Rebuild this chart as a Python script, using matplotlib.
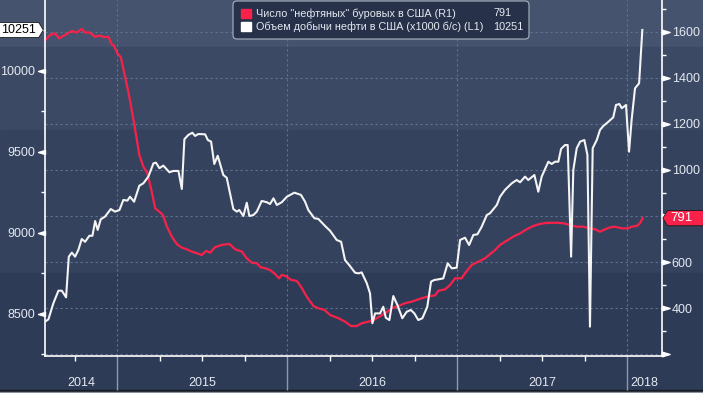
import matplotlib
matplotlib.use('Agg')
import matplotlib.pyplot as plt
import matplotlib.transforms as mtransforms
from matplotlib.path import Path
from matplotlib.patches import Rectangle, FancyBboxPatch
import numpy as np

plt.rcParams['font.family'] = ['Liberation Sans', 'DejaVu Sans']

# добыча нефти в США, тыс. б/с (левая ось)
prod_t = [2014.582, 2014.596, 2014.625, 2014.655, 2014.675, 2014.700, 2014.716, 2014.734, 2014.753, 2014.772,
          2014.792, 2014.812, 2014.837, 2014.855, 2014.871, 2014.886, 2014.904, 2014.929, 2014.963, 2014.988,
          2015.014, 2015.037, 2015.061, 2015.076, 2015.100, 2015.131, 2015.155, 2015.184, 2015.214, 2015.229,
          2015.249, 2015.272, 2015.308, 2015.331, 2015.361, 2015.381, 2015.396, 2015.419, 2015.443, 2015.459,
          2015.478, 2015.518, 2015.534, 2015.553, 2015.572, 2015.592, 2015.625, 2015.645, 2015.684, 2015.704,
          2015.719, 2015.743, 2015.763, 2015.778, 2015.802, 2015.822, 2015.851, 2015.881, 2015.900, 2015.920,
          2015.940, 2015.969, 2015.999, 2016.043, 2016.082, 2016.106, 2016.125, 2016.161, 2016.184, 2016.224,
          2016.253, 2016.292, 2016.318, 2016.341, 2016.365, 2016.400, 2016.420, 2016.439, 2016.469, 2016.488,
          2016.502, 2016.518, 2016.547, 2016.566, 2016.581, 2016.602, 2016.625, 2016.649, 2016.678, 2016.704,
          2016.728, 2016.749, 2016.772, 2016.796, 2016.825, 2016.847, 2016.866, 2016.890, 2016.919, 2016.945,
          2016.969, 2016.998, 2017.018, 2017.047, 2017.071, 2017.096, 2017.120, 2017.145, 2017.175, 2017.194,
          2017.234, 2017.253, 2017.282, 2017.322, 2017.351, 2017.371, 2017.400, 2017.419, 2017.455, 2017.478,
          2017.498, 2017.537, 2017.557, 2017.576, 2017.596, 2017.612, 2017.635, 2017.651, 2017.671, 2017.684,
          2017.704, 2017.724, 2017.749, 2017.767, 2017.782, 2017.798, 2017.822, 2017.841, 2017.861, 2017.884,
          2017.919, 2017.935, 2017.955, 2017.969, 2017.994, 2018.012, 2018.027, 2018.047, 2018.071, 2018.090]
prod_v = [8455, 8465, 8564, 8642, 8642, 8601, 8852, 8877, 8852, 8893,
          8961, 8944, 8981, 8981, 9072, 9017, 9083, 9099, 9146, 9130,
          9140, 9202, 9198, 9222, 9191, 9290, 9305, 9346, 9428, 9432,
          9398, 9414, 9373, 9381, 9381, 9270, 9577, 9603, 9617, 9597,
          9609, 9607, 9572, 9562, 9424, 9475, 9356, 9339, 9146, 9130,
          9140, 9103, 9185, 9103, 9109, 9130, 9196, 9188, 9177, 9212,
          9171, 9188, 9222, 9247, 9233, 9191, 9140, 9089, 9085, 9041,
          9012, 8955, 8944, 8831, 8801, 8753, 8749, 8755, 8688, 8626,
          8441, 8502, 8502, 8543, 8475, 8461, 8609, 8554, 8472, 8512,
          8523, 8502, 8461, 8472, 8543, 8698, 8708, 8712, 8718, 8811,
          8780, 8784, 8955, 8969, 8924, 8986, 8990, 9037, 9109, 9120,
          9171, 9222, 9264, 9305, 9325, 9311, 9346, 9325, 9356, 9253,
          9346, 9438, 9424, 9438, 9438, 9517, 9541, 9541, 8852, 9387,
          9521, 9562, 9572, 9480, 8420, 9521, 9572, 9634, 9659, 9679,
          9712, 9788, 9794, 9768, 9788, 9500, 9696, 9891, 9922, 10251]

# число нефтяных буровых (правая ось)
rig_t = [2014.582, 2014.606, 2014.635, 2014.659, 2014.694, 2014.734, 2014.763, 2014.792, 2014.812, 2014.837,
         2014.871, 2014.896, 2014.929, 2014.949, 2014.969, 2014.982, 2015.002, 2015.022, 2015.047, 2015.072,
         2015.100, 2015.131, 2015.155, 2015.178, 2015.204, 2015.224, 2015.249, 2015.269, 2015.292, 2015.322,
         2015.351, 2015.381, 2015.410, 2015.439, 2015.469, 2015.498, 2015.524, 2015.547, 2015.576, 2015.616,
         2015.661, 2015.694, 2015.734, 2015.763, 2015.792, 2015.822, 2015.845, 2015.871, 2015.900, 2015.929,
         2015.953, 2015.969, 2015.992, 2016.024, 2016.057, 2016.082, 2016.116, 2016.155, 2016.184, 2016.220,
         2016.253, 2016.302, 2016.341, 2016.376, 2016.410, 2016.439, 2016.478, 2016.508, 2016.537, 2016.576,
         2016.616, 2016.655, 2016.694, 2016.734, 2016.773, 2016.812, 2016.841, 2016.871, 2016.890, 2016.929,
         2016.959, 2016.988, 2017.027, 2017.047, 2017.086, 2017.125, 2017.165, 2017.224, 2017.253, 2017.292,
         2017.331, 2017.371, 2017.410, 2017.449, 2017.478, 2017.508, 2017.547, 2017.586, 2017.625, 2017.665,
         2017.704, 2017.743, 2017.782, 2017.812, 2017.841, 2017.871, 2017.900, 2017.929, 2017.969, 2018.008,
         2018.027, 2018.057, 2018.076, 2018.092]
rig_v = [1567, 1586, 1593, 1571, 1586, 1603, 1596, 1612, 1596, 1597,
         1578, 1583, 1576, 1578, 1545, 1538, 1506, 1489, 1405, 1318,
         1203, 1065, 1014, 986, 906, 834, 819, 805, 757, 711,
         679, 663, 656, 646, 639, 631, 649, 641, 665, 675,
         679, 656, 646, 617, 598, 595, 578, 574, 566, 549,
         530, 545, 540, 523, 519, 494, 450, 410, 400, 393,
         371, 357, 342, 323, 323, 335, 342, 349, 361, 378,
         400, 410, 422, 429, 439, 448, 453, 456, 476, 482,
         501, 530, 530, 552, 588, 602, 617, 653, 675, 693,
         711, 725, 743, 757, 764, 769, 771, 771, 769, 761,
         754, 754, 747, 743, 732, 743, 751, 754, 747, 747,
         754, 757, 769, 791]

left_ticks = [8500, 9000, 9500, 10000]
left_minor = [8250, 8750, 9250, 9750, 10250]
right_ticks = [200, 400, 600, 800, 1000, 1200, 1400, 1600]
right_labels = ['', '400', '600', '800', '1000', '1200', '1400', '1600']
right_minor = [300, 500, 700, 900, 1100, 1300, 1500, 1700]
year_starts = [2015, 2016, 2017, 2018]
year_labels = ['2014', '2015', '2016', '2017', '2018']
leg_names = ['Число "нефтяных" буровых в США (R1)', 'Объем добычи нефти в США (x1000 б/с) (L1)']

RED = '#f8214a'
WHITE = '#f4f4f4'
TXT = '#e4e9f1'
GRID = '#5f7490'
FS = 9

W, H = 703, 393
fig = plt.figure(figsize=(W / 100, H / 100), dpi=100, facecolor='#2e3b57')
# пиксели от верхнего левого угла
px = mtransforms.Affine2D().scale(1 / W, -1 / H).translate(0, 1) + fig.transFigure

# полосы фона
for y0, y1, c in [(0, 47, '#46536e'), (47, 130, '#3c4964'), (130, 273, '#35425e'),
                  (273, 390, '#2e3b57'), (390, 391.5, '#161b25'), (391.5, 393, '#8a919c')]:
    fig.add_artist(Rectangle((0, y0), W, y1 - y0, transform=px, color=c, zorder=-5))

ax = fig.add_axes([45 / W, 1 - 356 / H, (661.7 - 45) / W, 356 / H])
ax2 = ax.twinx()
ax.set_zorder(2)
ax2.set_zorder(1)
ax.patch.set_visible(False)
ax2.patch.set_visible(False)

ax.set_xlim(2014.576, 2018.204)
ax.set_ylim(8239, 10436)
ax2.set_ylim(193, 1737.5)

# сетка
for v in right_ticks:
    ax2.axhline(v, color=GRID, lw=0.8, ls=(0, (2, 2.5)), zorder=0)
for yr in year_starts:
    ax.axvline(yr, color=GRID, lw=0.8, ls=(0, (2, 2.5)), zorder=0)

ax2.plot(rig_t, rig_v, color=RED, lw=1.6, zorder=3)
ax.plot(prod_t, prod_v, color=WHITE, lw=1.5, zorder=3)

for s in ['top', 'right']:
    ax.spines[s].set_visible(False)
for s in ['top', 'left', 'bottom']:
    ax2.spines[s].set_visible(False)
for s in [ax.spines['left'], ax.spines['bottom'], ax2.spines['right']]:
    s.set_color('white')
    s.set_linewidth(1.2)

# левая ось
ax.set_yticks(left_ticks)
ax.set_yticks(left_minor, minor=True)
ax.tick_params(axis='y', which='major', length=0, pad=7.2, labelsize=FS, labelcolor=TXT)
ax.tick_params(axis='y', which='minor', length=3, width=1, color='white')
tri_left = Path([(0, -0.3), (0, 0.3), (-1, 0), (0, -0.3)], closed=True)
ax.plot(np.zeros(len(left_ticks)), left_ticks, ls='none', marker=tri_left, ms=10,
        color='white', transform=ax.get_yaxis_transform(), clip_on=False)

# правая ось
ax2.set_yticks(right_ticks, right_labels)
ax2.set_yticks(right_minor, minor=True)
ax2.tick_params(axis='y', which='major', length=0, pad=7.2, labelsize=FS, labelcolor=TXT)
ax2.tick_params(axis='y', which='minor', length=3, width=1, color='white')
tri_right = Path([(0, -0.3), (0, 0.3), (1, 0), (0, -0.3)], closed=True)
ax2.plot(np.ones(len(right_ticks)), right_ticks, ls='none', marker=tri_right, ms=11,
         color='white', transform=ax2.get_yaxis_transform(), clip_on=False)

# ось времени
x0, x1 = ax.get_xlim()
quarters = [y + q for y in range(2014, 2019) for q in (0.25, 0.5, 0.75) if x0 < y + q < x1]
ax.set_xticks(year_starts, [''] * len(year_starts))
ax.set_xticks(quarters, minor=True)
ax.tick_params(axis='x', which='major', length=24.5, width=1, color='#8e98aa')
ax.tick_params(axis='x', which='minor', length=3.5, width=1, color='white')
for lab in year_labels:
    yr = int(lab)
    mid = (max(yr, x0) + min(yr + 1, x1)) / 2
    ax.text(mid, -0.076, lab, transform=ax.get_xaxis_transform(), ha='center', va='center',
            color=TXT, fontsize=FS)


def tag_style(point):
    def style(x0, y0, width, height, mutation_size, *args):
        near = 0.25 * mutation_size
        far = 40
        y0 -= 0.12 * mutation_size
        y1 = y0 + height + 0.24 * mutation_size
        tip = 0.3 * (y1 - y0)
        ym = (y0 + y1) / 2
        if point == 'right':
            a, b = x0 - far, x0 + width + near
            verts = [(a, y0), (b, y0), (b + tip, ym), (b, y1), (a, y1), (a, y0)]
        else:
            a, b = x0 - near, x0 + width + far
            verts = [(a, y0), (b, y0), (b, y1), (a, y1), (a - tip, ym), (a, y0)]
        return Path(verts, closed=True)
    return style


ax.annotate(f'{prod_v[-1]}', xy=(0, prod_v[-1]), xycoords=('axes fraction', 'data'),
            xytext=(-6.7, 0), textcoords='offset points', ha='right', va='center',
            fontsize=FS, color='black', annotation_clip=False,
            bbox=dict(boxstyle=tag_style('right'), fc='white', ec='#1b1b1b', lw=0.6))
ax2.annotate(f'{rig_v[-1]}', xy=(1, rig_v[-1]), xycoords=('axes fraction', 'data'),
             xytext=(6.5, 0), textcoords='offset points', ha='left', va='center',
             fontsize=FS + 0.5, color='white', annotation_clip=False, zorder=10,
             bbox=dict(boxstyle=tag_style('left'), fc=RED, ec='#1b1b1b', lw=0.6))

# легенда
fig.add_artist(FancyBboxPatch((233, 1), 296, 38, boxstyle='round,pad=0,rounding_size=4',
                              transform=px, fc='#27324a', ec='#aab3c2', lw=0.8, zorder=5))
leg_vals = [str(rig_v[-1]), str(prod_v[-1])]
for i, (name, val, c) in enumerate(zip(leg_names, leg_vals, [RED, 'white'])):
    yc = 13.5 + 13.2 * i
    fig.add_artist(Rectangle((240.7, yc - 4.4), 10, 8.8, transform=px, color=c, zorder=6))
    fig.text(256, yc, name, transform=px, va='center', ha='left', color=TXT, fontsize=7.8, zorder=6)
    fig.text(493, yc, val, transform=px, va='center', ha='left', color=TXT, fontsize=7.8, zorder=6)

fig.savefig('out.png', dpi=100, facecolor=fig.get_facecolor())
